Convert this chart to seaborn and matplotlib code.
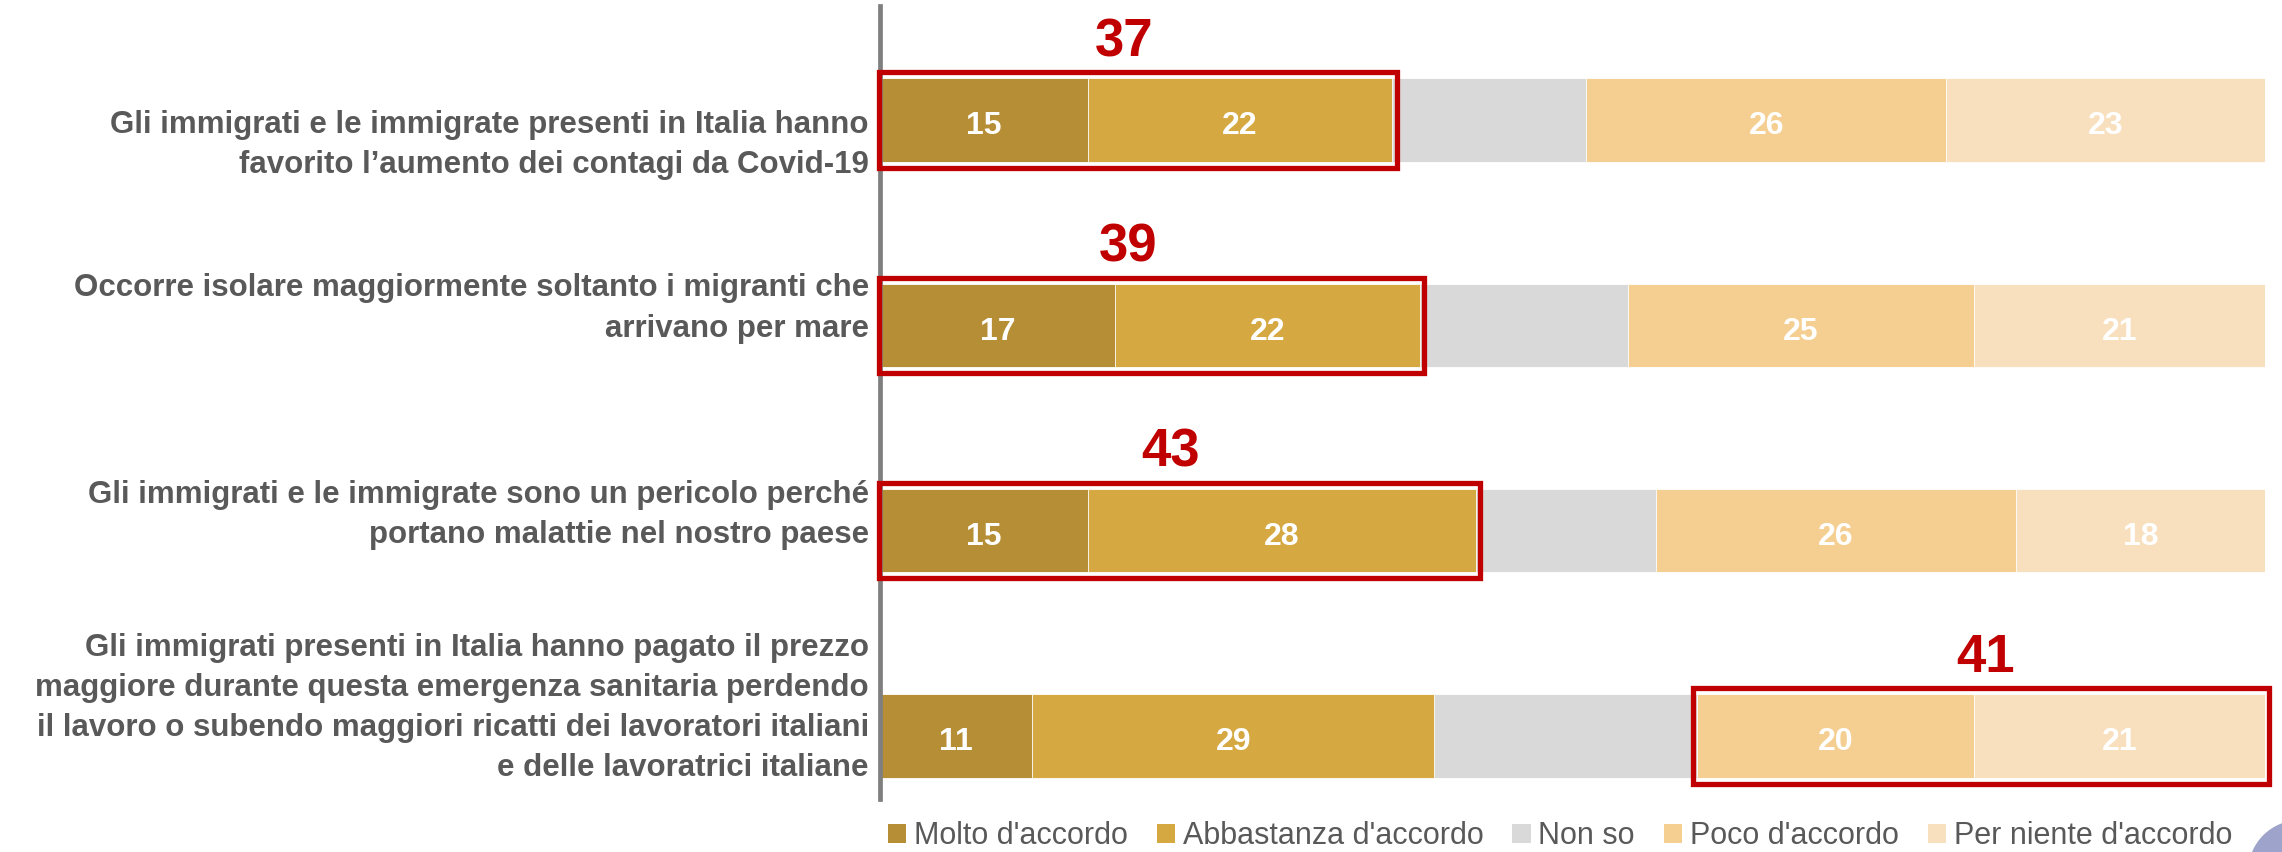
import matplotlib
matplotlib.use("Agg")
import matplotlib.pyplot as plt
import seaborn as sns
import numpy as np
from matplotlib.patches import Rectangle, Patch, Circle

# ---------------- data ----------------
categories = [
    "Gli immigrati e le immigrate presenti in Italia hanno\nfavorito l\u2019aumento dei contagi da Covid-19",
    "Occorre isolare maggiormente soltanto i migranti che\narrivano per mare",
    "Gli immigrati e le immigrate sono un pericolo perch\u00e9\nportano malattie nel nostro paese",
    "Gli immigrati presenti in Italia hanno pagato il prezzo\nmaggiore durante questa emergenza sanitaria perdendo\nil lavoro o subendo maggiori ricatti dei lavoratori italiani\ne delle lavoratrici italiane",
]
series_names = ["Molto d'accordo", "Abbastanza d'accordo", "Non so",
                "Poco d'accordo", "Per niente d'accordo"]
molto = [15, 17, 15, 11]
abbastanza = [22, 22, 28, 29]
non_so = [14, 15, 13, 19]
poco = [26, 25, 26, 20]
per_niente = [23, 21, 18, 21]
highlight_totals = [37, 39, 43, 41]
highlight_side = ["agree", "agree", "agree", "disagree"]

# ---------------- style ----------------
colors = ["#B58E35", "#D5A841", "#D9D9D9", "#F5CF91", "#F8E0BF"]
show_value = [True, True, False, True, True]
label_offsets = [0.12, -0.082, -0.075, -0.136]
total_dx = [-1.0, -1.7, -0.6, 0.3]
red = "#C00000"
grey_text = "#595959"

sns.set_style("white")
plt.rcParams["font.family"] = ["Liberation Sans", "DejaVu Sans"]

fig = plt.figure(figsize=(22.82, 8.52), dpi=100)
ax = fig.add_axes([0.38563, 0.0622, 0.60692, 0.9307])

values = np.array([molto, abbastanza, non_so, poco, per_niente])
cum = np.cumsum(values, axis=0)

# stacked bars: draw cumulative totals from the largest down
for i in reversed(range(len(series_names))):
    sns.barplot(x=cum[i], y=categories, orient="y", color=colors[i],
                saturation=1, width=0.405, errorbar=None,
                edgecolor="white", linewidth=0.6, ax=ax)

# value labels
for i in range(len(series_names)):
    if not show_value[i]:
        continue
    for j, v in enumerate(values[i]):
        left = cum[i][j] - v
        ax.text(left + v / 2, j + 0.07, str(v), ha="center", va="baseline",
                color="white", fontsize=23, fontweight="bold", zorder=4)

# highlight boxes
for j, tot in enumerate(highlight_totals):
    if highlight_side[j] == "agree":
        x0, x1 = -0.1, cum[1][j] + 0.3
    else:
        x0, x1 = cum[2][j] - 0.3, cum[4][j] + 0.3
    ax.add_patch(Rectangle((x0, j - 0.232), x1 - x0, 0.464, fill=False,
                           edgecolor=red, linewidth=3.8, clip_on=False, zorder=5))
    ax.text((x0 + x1) / 2 + total_dx[j], j - 0.31, str(tot), ha="center",
            va="baseline", color=red, fontsize=38, fontweight="bold", zorder=6)

# category labels
for j, lab in enumerate(categories):
    ax.text(-0.8, j + label_offsets[j], lab, ha="right", va="center",
            fontsize=22.5, fontweight="bold", color=grey_text,
            linespacing=1.44, clip_on=False)

ax.set_xlim(0, 100)
ax.set_ylim(3.307, -0.555)
ax.set_xticks([])
ax.set_yticks([])
ax.set_xlabel("")
ax.set_ylabel("")
for s in ["top", "right", "bottom"]:
    ax.spines[s].set_visible(False)
ax.spines["left"].set_color("#7F7F7F")
ax.spines["left"].set_linewidth(3.4)

# legend
handles = [Patch(facecolor=c, edgecolor="none") for c in colors]
fig.legend(handles, series_names, loc="center", bbox_to_anchor=(0.6836, 0.0185),
           ncol=5, frameon=False, fontsize=22, handlelength=0.6, handleheight=0.6,
           handletextpad=0.25, columnspacing=0.95, labelcolor=grey_text,
           borderpad=0, borderaxespad=0)

# decorative page circle (bottom-right)
fig.patches.append(Circle((23.0, -0.2), 0.52, transform=fig.dpi_scale_trans,
                          facecolor="#9EA3CB", edgecolor="none"))

fig.savefig("out.png", dpi=100)
